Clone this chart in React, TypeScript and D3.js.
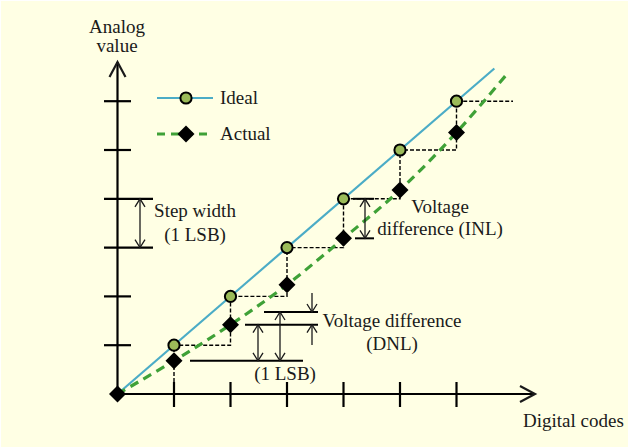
import React from "react";
import * as d3 from "d3";

const W = 629;
const H = 448;

// Data
const codes = [0, 1, 2, 3, 4, 5, 6];
const idealLevels = [0, 1, 2, 3, 4, 5, 6];
const actualLevels = [0, 0.68, 1.42, 2.24, 3.19, 4.18, 5.36];
const tickCodes = [1, 2, 3, 4, 5, 6];
const tickLevels = [1, 2, 3, 4, 5, 6];
const longTickLevels = [3, 4];
const idealLineEnd = [6.67, 6.67];
const actualCurveEnd = [6.91, 6.58];
const stairEndCode = 7;
const legendLabels = ["Ideal", "Actual"];

const BG = "#FFFFE4";
const BLUE = "#4BACC6";
const GREEN = "#3FA137";
const OLIVE = "#9BBB59";
const INK = "#1a1a1a";
const FONT = "'Liberation Serif', 'Times New Roman', serif";

const x = d3.scaleLinear().domain([0, 7]).range([117.5, 117.5 + 7 * 56.5]);
const y = d3.scaleLinear().domain([0, 7]).range([394, 394 - 7 * 48.8]);

function OpenArrow({ x1, y1, x2, y2, len = 8, half = 5, sw = 1.3 }) {
  const dx = x2 - x1, dy = y2 - y1;
  const L = Math.hypot(dx, dy);
  const ux = dx / L, uy = dy / L;
  const px = -uy, py = ux;
  const bx = x2 - ux * len, by = y2 - uy * len;
  return (
    <path
      d={`M${bx + px * half},${by + py * half}L${x2},${y2}L${bx - px * half},${by - py * half}`}
      fill="none"
      stroke={INK}
      strokeWidth={sw}
    />
  );
}

function DoubleArrow({ xx, ya, yb }) {
  return (
    <g>
      <line x1={xx} x2={xx} y1={ya} y2={yb} stroke={INK} strokeWidth={1.3} />
      <OpenArrow x1={xx} y1={yb} x2={xx} y2={ya} />
      <OpenArrow x1={xx} y1={ya} x2={xx} y2={yb} />
    </g>
  );
}

function Diamond({ cx, cy, r = 8.5 }) {
  return (
    <path
      d={`M${cx},${cy - r}L${cx + r},${cy}L${cx},${cy + r}L${cx - r},${cy}Z`}
      fill="#000"
    />
  );
}

function Circle({ cx, cy }) {
  return <circle cx={cx} cy={cy} r={5.6} fill={OLIVE} stroke="#000" strokeWidth={2} />;
}

export default function App() {
  const x0 = x(0), y0 = y(0);
  const axisEndX = 535;
  const axisTopY = 62;

  let stair = `M${x(1)},${y(0)}`;
  for (let i = 1; i < idealLevels.length; i++) {
    stair += `L${x(codes[i])},${y(idealLevels[i])}`;
    const nx = i + 1 < codes.length ? codes[i + 1] : stairEndCode;
    stair += `L${x(nx)},${y(idealLevels[i])}`;
  }

  const idealLine = d3.line<number[]>().x((d) => x(d[0])).y((d) => y(d[1]))([
    [0, 0],
    idealLineEnd,
  ]);
  const actualPts = codes.map((c, i) => [c, actualLevels[i]]).concat([actualCurveEnd]);
  const actualLine = d3
    .line<number[]>()
    .x((d) => x(d[0]))
    .y((d) => y(d[1]))
    .curve(d3.curveCatmullRom.alpha(0.5))(actualPts);

  const a1 = y(actualLevels[1]);
  const a2 = y(actualLevels[2]);
  const a1p = y(actualLevels[1] + 1);
  const i4 = y(idealLevels[4]);
  const a4 = y(actualLevels[4]);

  const textStyle = { fontFamily: FONT, fontSize: 19, fill: INK };

  return (
    <svg
      width={W}
      height={H}
      style={{ position: "absolute", left: 0, top: 0, display: "block" }}
    >
      <rect x={0} y={0} width={W} height={H} fill="#fff" />
      <rect x={1} y={1} width={W - 2} height={H - 2} fill={BG} />

      <line x1={x0} x2={axisEndX} y1={y0} y2={y0} stroke="#000" strokeWidth={2.2} />
      <line x1={x0} x2={x0} y1={y0} y2={axisTopY} stroke="#000" strokeWidth={2.2} />
      <OpenArrow x1={x0} y1={y0} x2={axisEndX} y2={y0} len={15} half={8} sw={2.2} />
      <OpenArrow x1={x0} y1={y0} x2={x0} y2={axisTopY} len={15} half={8} sw={2.2} />
      {tickCodes.map((c) => (
        <line key={"xt" + c} x1={x(c)} x2={x(c)} y1={y0 - 12} y2={y0 + 13} stroke="#000" strokeWidth={2.2} />
      ))}
      {tickLevels.map((l) => (
        <line
          key={"yt" + l}
          x1={104}
          x2={longTickLevels.includes(l) ? 153 : 131}
          y1={y(l)}
          y2={y(l)}
          stroke="#000"
          strokeWidth={2.2}
        />
      ))}

      <path d={stair} fill="none" stroke="#000" strokeWidth={1.4} strokeDasharray="4,2" />

      <path d={idealLine} fill="none" stroke={BLUE} strokeWidth={2.2} />
      <path d={actualLine} fill="none" stroke={GREEN} strokeWidth={3.2} strokeDasharray="9,6" />

      {codes.map((c, i) =>
        i > 0 ? <Circle key={"c" + c} cx={x(c)} cy={y(idealLevels[i])} /> : null
      )}
      {codes.map((c, i) => (
        <Diamond key={"d" + c} cx={x(c)} cy={y(actualLevels[i])} />
      ))}

      <line x1={157} x2={213} y1={98} y2={98} stroke={BLUE} strokeWidth={2.2} />
      <Circle cx={186} cy={98} />
      <text x={220} y={104} {...textStyle}>{legendLabels[0]}</text>
      <line x1={157} x2={213} y1={134} y2={134} stroke={GREEN} strokeWidth={3.2} strokeDasharray="8,6" />
      <Diamond cx={186} cy={134} />
      <text x={220} y={140} {...textStyle}>{legendLabels[1]}</text>

      <text x={117} y={33} textAnchor="middle" {...textStyle}>Analog</text>
      <text x={117} y={52} textAnchor="middle" {...textStyle}>value</text>
      <text x={523} y={427} {...textStyle}>Digital codes</text>

      <DoubleArrow xx={140} ya={y(4)} yb={y(3)} />
      <text x={195} y={217} textAnchor="middle" {...textStyle}>Step width</text>
      <text x={195} y={241} textAnchor="middle" {...textStyle}>(1 LSB)</text>

      <line x1={190} x2={303} y1={a1} y2={a1} stroke="#000" strokeWidth={2} />
      <line x1={245} x2={318} y1={a2} y2={a2} stroke="#000" strokeWidth={2} />
      <line x1={264} x2={318} y1={a1p} y2={a1p} stroke="#000" strokeWidth={2} />
      <DoubleArrow xx={258} ya={a2} yb={a1} />
      <DoubleArrow xx={280} ya={a1p} yb={a1} />
      <line x1={312} x2={312} y1={293} y2={a1p} stroke={INK} strokeWidth={1.3} />
      <OpenArrow x1={312} y1={293} x2={312} y2={a1p} />
      <line x1={312} x2={312} y1={345} y2={a2} stroke={INK} strokeWidth={1.3} />
      <OpenArrow x1={312} y1={345} x2={312} y2={a2} />
      <text x={285} y={380} textAnchor="middle" {...textStyle}>(1 LSB)</text>
      <text x={392} y={327} textAnchor="middle" {...textStyle}>Voltage difference</text>
      <text x={392} y={350} textAnchor="middle" {...textStyle}>(DNL)</text>

      <line x1={353} x2={374} y1={i4} y2={i4} stroke="#000" strokeWidth={2} />
      <line x1={355} x2={374} y1={a4} y2={a4} stroke="#000" strokeWidth={2} />
      <DoubleArrow xx={365} ya={i4} yb={a4} />
      <text x={440} y={213} textAnchor="middle" {...textStyle}>Voltage</text>
      <text x={440} y={235} textAnchor="middle" {...textStyle}>difference (INL)</text>
    </svg>
  );
}
